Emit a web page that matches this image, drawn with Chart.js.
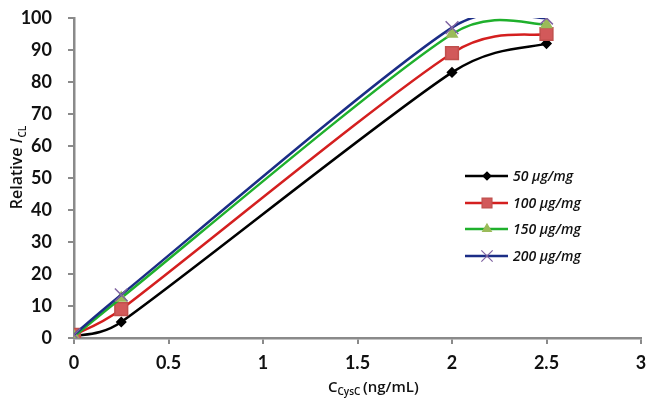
<!DOCTYPE html>
<html>
<head>
<meta charset="utf-8">
<script src="https://cdn.jsdelivr.net/npm/chart.js@4/dist/chart.umd.min.js"></script>
<style>
  html, body { margin: 0; padding: 0; background: #fff; }
  #wrap { width: 653px; height: 400px; }
</style>
</head>
<body>
<div id="wrap"><canvas id="chart"></canvas></div>
<script>
// C_CysC values (ng/mL)
const concentrations = [0, 0.25, 2, 2.5];
const seriesNames = ['50 \u03bcg/mg', '100 \u03bcg/mg', '150 \u03bcg/mg', '200 \u03bcg/mg'];
const series50 = [0.5, 5, 83, 92];
const series100 = [1, 9, 89, 95];
const series150 = [0.5, 12.5, 95, 98];
const series200 = [1, 13.5, 97, 100];

const axisGray = '#8a8a8a';
const tickFont = { family: 'Lato', size: 18, weight: 'bold' };

function toPoints(values) {
    return concentrations.map((x, i) => ({ x: x, y: values[i] }));
}

const styles = [
    { line: '#000000', style: 'rectRot', fill: '#000000', border: '#000000', r: 4.5, lr: 4 },
    { line: '#d41f1f', style: 'rect', fill: '#d2595a', border: '#c0504d', r: 9, lr: 7 },
    { line: '#1fb02c', style: 'triangle', fill: '#9bbb59', border: '#9bbb59', r: 6, lr: 5 },
    { line: '#1b2d86', style: 'crossRot', fill: '#8064a2', border: '#8064a2', r: 9, lr: 8 }
];
const allSeries = [series50, series100, series150, series200];

const datasets = allSeries.map((vals, i) => ({
    label: seriesNames[i],
    data: toPoints(vals),
    borderColor: styles[i].line,
    borderWidth: 2.5,
    tension: 0.4,
    pointStyle: styles[i].style,
    pointRadius: styles[i].r,
    pointBackgroundColor: styles[i].fill,
    pointBorderColor: styles[i].border,
    pointBorderWidth: 1.5,
    order: 3 - i
}));

// Excel-style smoothing: catmull-rom arms (1/6 of neighbour span), capped at half the segment
const excelSmooth = {
    id: 'excelSmooth',
    beforeDatasetsDraw(chart) {
        chart.getSortedVisibleDatasetMetas().forEach(meta => {
            const pts = meta.data;
            const n = pts.length;
            for (let i = 0; i < n; i++) {
                const p = pts[i];
                const prev = pts[Math.max(i - 1, 0)];
                const next = pts[Math.min(i + 1, n - 1)];
                let tx = next.x - prev.x, ty = next.y - prev.y;
                const tl = Math.hypot(tx, ty) || 1;
                tx /= tl; ty /= tl;
                const aPrev = Math.min(tl / 6, Math.hypot(p.x - prev.x, p.y - prev.y) / 2);
                const aNext = Math.min(tl / 6, Math.hypot(next.x - p.x, next.y - p.y) / 2);
                p.cp1x = p.x - tx * aPrev;
                p.cp1y = p.y - ty * aPrev;
                p.cp2x = p.x + tx * aNext;
                p.cp2y = p.y + ty * aNext;
            }
            meta.dataset._pointsUpdated = true;
        });
    }
};

// titles + legend drawn by hand (subscripts, legend sits inside the plot)
const extras = {
    id: 'extras',
    afterDraw(chart) {
        const ctx = chart.ctx;
        ctx.save();
        ctx.fillStyle = '#111';
        ctx.textBaseline = 'alphabetic';

        // x title: C_CysC (ng/mL)
        let x = 328, y = 392;
        ctx.font = '600 15px "Open Sans"';
        ctx.fillText('C', x, y);
        x += ctx.measureText('C').width;
        ctx.font = '600 10px "Open Sans"';
        ctx.fillText('CysC', x, y + 3);
        x += ctx.measureText('CysC ').width;
        ctx.font = '600 15px "Open Sans"';
        ctx.fillText('(ng/mL)', x, y);

        // y title: Relative I_CL
        ctx.translate(22, 168);
        ctx.rotate(-Math.PI / 2);
        ctx.font = '600 16px "Open Sans"';
        const w1 = ctx.measureText('Relative ').width;
        ctx.font = 'italic 600 16px "Open Sans"';
        const w2 = ctx.measureText('I').width;
        ctx.font = '600 10px "Open Sans"';
        const w3 = ctx.measureText('CL').width;
        let tx = -(w1 + w2 + w3) / 2;
        ctx.font = '600 16px "Open Sans"';
        ctx.fillText('Relative ', tx, 0);
        tx += w1;
        ctx.font = 'italic 600 16px "Open Sans"';
        ctx.fillText('I', tx, 0);
        tx += w2 + 1;
        ctx.font = '600 10px "Open Sans"';
        ctx.fillText('CL', tx, 4);
        ctx.restore();

        // legend
        ctx.save();
        const rows = [176, 203, 229, 256];
        datasets.forEach((ds, i) => {
            const ly = rows[i];
            ctx.strokeStyle = styles[i].line;
            ctx.lineWidth = 2.5;
            ctx.beginPath();
            ctx.moveTo(465, ly);
            ctx.lineTo(508, ly);
            ctx.stroke();
            ctx.fillStyle = styles[i].fill;
            ctx.strokeStyle = styles[i].border;
            ctx.lineWidth = 1.2;
            Chart.helpers.drawPoint(ctx, {
                pointStyle: styles[i].style,
                radius: styles[i].lr,
                rotation: 0,
                borderWidth: 1.2
            }, 487, ly);
            ctx.fillStyle = '#111';
            ctx.font = 'italic 600 14px "Open Sans"';
            ctx.textBaseline = 'middle';
            ctx.fillText(ds.label, 513, ly + 1);
        });
        ctx.restore();
    }
};

new Chart(document.getElementById('chart'), {
    type: 'line',
    data: { datasets: datasets },
    options: {
        responsive: true,
        maintainAspectRatio: false,
        animation: false,
        layout: { padding: { left: 0, right: 12, top: 18, bottom: 0 } },
        plugins: {
            legend: { display: false },
            tooltip: { enabled: false }
        },
        scales: {
            x: {
                type: 'linear',
                min: 0,
                max: 3,
                ticks: { stepSize: 0.5, color: '#111', font: tickFont, padding: 8, callback: v => String(v) },
                grid: { drawOnChartArea: false, color: axisGray, lineWidth: 2, tickLength: 6 },
                border: { color: axisGray, width: 2.5 },
                afterFit(scale) {
                    scale.height = 62;
                    scale.paddingLeft = 0;
                    scale.paddingRight = 0;
                }
            },
            y: {
                min: 0,
                max: 100,
                ticks: { stepSize: 10, color: '#111', font: tickFont, padding: 16 },
                grid: { drawOnChartArea: false, color: axisGray, lineWidth: 2, tickLength: 6 },
                border: { color: axisGray, width: 2.5 },
                afterFit(scale) {
                    scale.width = 74;
                    scale.paddingTop = 0;
                    scale.paddingBottom = 0;
                }
            }
        }
    },
    plugins: [excelSmooth, extras]
});
</script>
</body>
</html>
